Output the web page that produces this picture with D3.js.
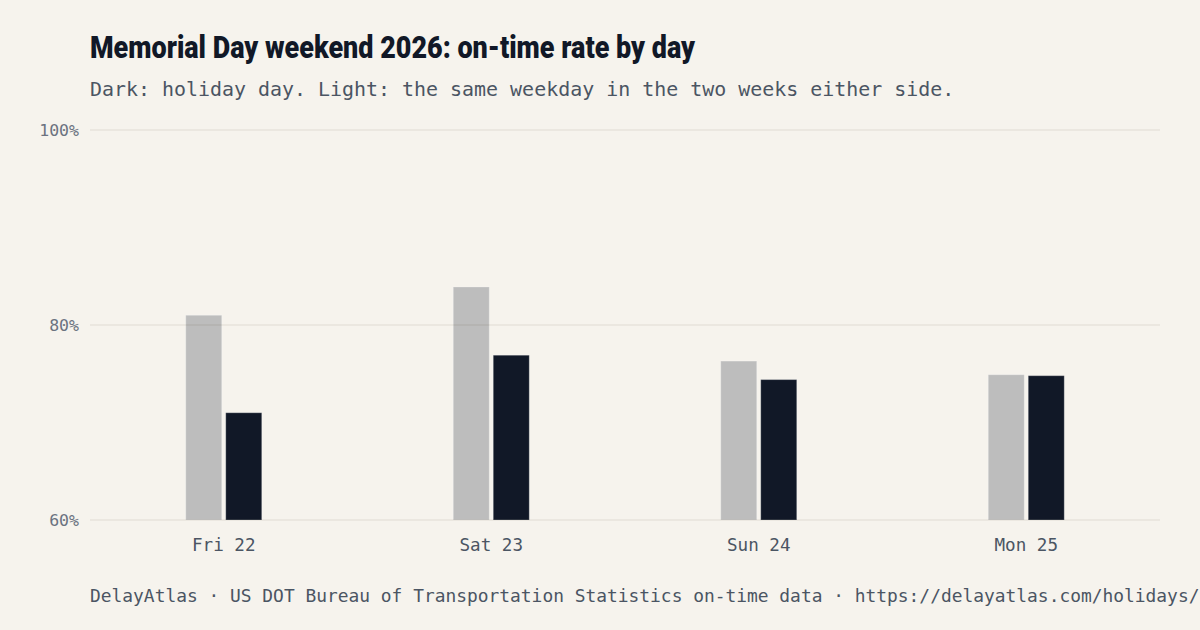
<!DOCTYPE html>
<html>
<head>
<meta charset="utf-8">
<script src="https://cdn.jsdelivr.net/npm/d3@7"></script>
<style>
  html, body { margin: 0; padding: 0; background: #f6f3ed; }
  svg { display: block; }
  .mono { font-family: "DejaVu Sans Mono", "Liberation Mono", monospace; }
</style>
</head>
<body>
<div id="chart"></div>
<script>
// Chart data
const days = ["Fri 22", "Sat 23", "Sun 24", "Mon 25"];
const baselineRate = [81.0, 83.9, 76.3, 74.9];   // same weekday, two weeks either side (light)
const holidayRate = [71.0, 76.9, 74.4, 74.8];    // holiday day (dark)
const yTicks = [60, 80, 100];

const width = 1200, height = 630;
const margin = {top: 130, right: 40, bottom: 110, left: 90};

const svg = d3.select("#chart").append("svg")
    .attr("width", width)
    .attr("height", height);

svg.append("rect").attr("width", width).attr("height", height).attr("fill", "#f6f3ed");

// Title + subtitle
const title = svg.append("text")
    .attr("x", 90).attr("y", 58)
    .attr("font-family", "Roboto, 'DejaVu Sans', sans-serif")
    .attr("font-weight", 900)
    .attr("font-size", 31)
    .attr("fill", "#111827")
    .text("Memorial Day weekend 2026: on-time rate by day");
// squeeze to the condensed width of the original
if (title.node().getComputedTextLength() > 605) {
    title.attr("textLength", 605).attr("lengthAdjust", "spacingAndGlyphs");
}

svg.append("text")
    .attr("class", "mono")
    .attr("x", 90).attr("y", 96)
    .attr("font-size", 19.95)
    .attr("fill", "#4b5563")
    .text("Dark: holiday day. Light: the same weekday in the two weeks either side.");

// Scales
const x = d3.scaleBand()
    .domain(days)
    .range([margin.left, width - margin.right])
    .padding(0);

const y = d3.scaleLinear()
    .domain([60, 100])
    .range([height - margin.bottom, margin.top]);

const barW = 36, gap = 4;

// Y tick labels
svg.append("g")
    .selectAll("text")
    .data(yTicks)
    .join("text")
    .attr("class", "mono")
    .attr("x", 79)
    .attr("y", d => y(d))
    .attr("dy", "0.35em")
    .attr("text-anchor", "end")
    .attr("font-size", 16.5)
    .attr("fill", "#6b7280")
    .text(d => d + "%");

// Light bars (baseline)
svg.append("g")
    .selectAll("rect")
    .data(days)
    .join("rect")
    .attr("x", d => x(d) + x.bandwidth() / 2 - gap / 2 - barW)
    .attr("y", (d, i) => y(baselineRate[i]))
    .attr("width", barW)
    .attr("height", (d, i) => y(60) - y(baselineRate[i]))
    .attr("fill", "#bdbdbd")
    .attr("stroke", "#ffffff")
    .attr("stroke-opacity", 0.25);

// Dark bars (holiday)
svg.append("g")
    .selectAll("rect")
    .data(days)
    .join("rect")
    .attr("x", d => x(d) + x.bandwidth() / 2 + gap / 2)
    .attr("y", (d, i) => y(holidayRate[i]))
    .attr("width", barW)
    .attr("height", (d, i) => y(60) - y(holidayRate[i]))
    .attr("fill", "#111827")
    .attr("stroke", "#ffffff")
    .attr("stroke-opacity", 0.25);

// Grid (drawn over the bars, faint)
svg.append("g")
    .selectAll("line")
    .data(yTicks)
    .join("line")
    .attr("x1", margin.left)
    .attr("x2", width - margin.right)
    .attr("y1", d => y(d))
    .attr("y2", d => y(d))
    .attr("stroke", "#3a2a10")
    .attr("stroke-opacity", 0.075)
    .attr("stroke-width", 1.5);

// X labels
svg.append("g")
    .selectAll("text")
    .data(days)
    .join("text")
    .attr("class", "mono")
    .attr("x", d => x(d) + x.bandwidth() / 2)
    .attr("y", 551)
    .attr("text-anchor", "middle")
    .attr("font-size", 17.6)
    .attr("fill", "#4b5563")
    .text(d => d);

// Footer
svg.append("text")
    .attr("class", "mono")
    .attr("x", 90).attr("y", 602)
    .attr("font-size", 17.9)
    .attr("fill", "#4b5563")
    .text("DelayAtlas · US DOT Bureau of Transportation Statistics on-time data · https://delayatlas.com/holidays/");
</script>
</body>
</html>
